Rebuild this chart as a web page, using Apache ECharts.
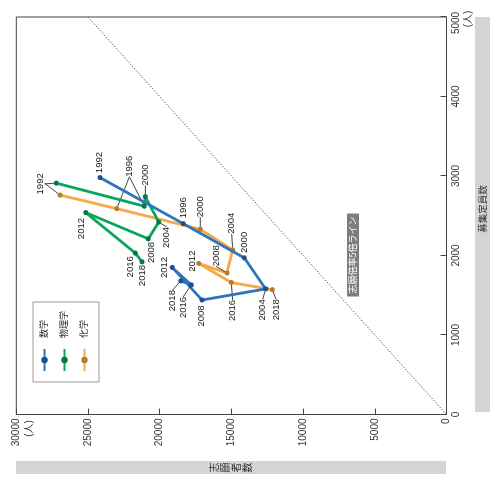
<!DOCTYPE html>
<html><head><meta charset="utf-8">
<script src="https://cdn.jsdelivr.net/npm/echarts@6/dist/echarts.min.js"></script>
<style>
html,body{margin:0;padding:0;width:491px;height:479px;overflow:hidden;background:#fff;}
#chart{position:absolute;left:6px;top:-6px;width:479px;height:491px;transform:rotate(-90deg);transform-origin:50% 50%;}
</style></head><body><div id="chart"></div>
<script>
// ---- data (x: 募集定員数, y: 志願者数) ----
const years = ['1992','1996','2000','2004','2008','2012','2016','2018'];
const seriesNames = ['数学','物理学','化学'];
const mathCapacity = [2980,2400,1970,1580,1440,1850,1630,1680];
const mathApplicants = [24160,18350,14100,12610,17050,19130,17800,18540];
const physicsCapacity = [2910,2620,2740,2420,2210,2540,2030,1920];
const physicsApplicants = [27210,21070,21000,20070,20800,25160,21700,21230];
const chemCapacity = [2760,2590,2330,2070,1780,1900,1660,1570];
const chemApplicants = [26950,23000,17170,14910,15310,17280,15010,12150];
const ratioLineCapacity = [0,5000];
const ratioLineApplicants = [0,25000];
const capacityTicks = [0,1000,2000,3000,4000,5000];
const applicantTicks = [0,5000,10000,15000,20000,25000,30000];

// ---- label placement (styling, px offsets from point) ----
const mathLabelOffsets = [[15,-1],[16,0],[15.5,0],[-21,-3],[-16,-1],[0,-8],[-22.5,-8],[-19.7,-8]];
const mathLeader = [false,false,false,true,false,false,true,true];
const physLabelOffsets = [[-0.7,-16.3],[40,-15],[21.7,0],[-15.3,8],[-13.7,3.4],[-16,-4],[-13.7,-4.6],[-13.7,0]];
const physLeader = [true,true,true,true,false,false,false,false];
const chemLabelOffsets = [[11.7,-20],[42,12.6],[22.6,0],[26.7,-1],[17.3,-10.9],[2.3,-6.7],[-28,1.4],[-20,3.7]];
const chemLeader = [true,true,true,true,true,false,true,true];
const chemHiddenText = [true,true,false,false,false,false,false,false]; // shares label text with 物理学

const FONT = '"Liberation Sans", Arial, "Noto Sans CJK JP", sans-serif';
const colors = {
  line: ['#2f74bd','#0aa65c','#f5a947'],
  dot:  ['#1f508e','#097640','#b87c2e']
};
const leaderStyle = {color: '#111', width: 0.8};

function makeSeries(idx, caps, apps, offsets, leaders, z, hidden){
  return {
    name: seriesNames[idx],
    type: 'line',
    z: z,
    data: caps.map((c,i)=>{
      const item = {value:[c, apps[i]], labelLine:{show: leaders[i], lineStyle: leaderStyle}};
      if (hidden && hidden[i]) item.label = {color: 'rgba(0,0,0,0)'};
      return item;
    }),
    symbol: 'circle',
    symbolSize: 5,
    lineStyle: {color: colors.line[idx], width: 2.8},
    itemStyle: {color: colors.dot[idx], borderWidth: 0},
    label: {
      show: true, position: 'inside',
      formatter: p => years[p.dataIndex],
      fontSize: 9.5, color: '#1a1a1a', fontFamily: FONT
    },
    labelLine: {show: false, lineStyle: leaderStyle},
    labelLayout: p => ({dx: offsets[p.dataIndex][0], dy: offsets[p.dataIndex][1]}),
    emphasis: {disabled: true}
  };
}

const chart = echarts.init(document.getElementById('chart'), null, {renderer:'canvas'});
chart.setOption({
  animation: false,
  textStyle: {fontFamily: FONT},
  grid: {left: 64.5, right: 17, top: 16.3, bottom: 44.5, show: true, borderColor: '#444', borderWidth: 1, outerBoundsMode: 'none'},
  xAxis: {
    type: 'value', min: capacityTicks[0], max: capacityTicks[capacityTicks.length-1],
    interval: capacityTicks[1]-capacityTicks[0],
    axisLine: {show: true, lineStyle: {color: '#444', width: 1}},
    axisTick: {show: true, inside: true, length: 6, lineStyle: {color: '#444'}},
    axisLabel: {
      fontSize: 10, color: '#333', margin: 5, fontFamily: FONT,
      formatter: v => v === 5000 ? '{s|5000}' : String(v),
      rich: {s: {fontSize: 10, color: '#333', padding: [0, 12, 0, 0], fontFamily: FONT}}
    },
    splitLine: {show: false}
  },
  yAxis: {
    type: 'value', min: applicantTicks[0], max: applicantTicks[applicantTicks.length-1],
    interval: applicantTicks[1]-applicantTicks[0],
    axisLine: {show: true, lineStyle: {color: '#444', width: 1}},
    axisTick: {show: true, inside: true, length: 6, lineStyle: {color: '#444'}},
    axisLabel: {fontSize: 10, color: '#333', margin: 4, fontFamily: FONT, formatter: v => String(v)},
    splitLine: {show: false}
  },
  legend: {
    data: seriesNames,
    orient: 'vertical', left: 97, top: 33,
    padding: [7, 9, 10, 10], itemGap: 11,
    itemWidth: 22, itemHeight: 8,
    borderColor: '#999', borderWidth: 1,
    textStyle: {fontSize: 9, color: '#222', fontFamily: FONT, padding: [0,0,0,6]},
    selectedMode: false
  },
  graphic: [
    {type: 'rect', left: 5, top: 16, shape: {width: 13, height: 430}, style: {fill: '#d4d4d4'}, silent: true},
    {type: 'text', x: 11.5, y: 231, style: {text: '志\n願\n者\n数', lineHeight: 11, align: 'center', verticalAlign: 'middle', fill: '#333', font: '10px "Noto Sans CJK JP"'}, silent: true},
    {type: 'rect', left: 67, top: 475, shape: {width: 395, height: 15}, style: {fill: '#d4d4d4'}, silent: true},
    {type: 'text', x: 270, y: 482.5, style: {text: '募集定員数', align: 'center', verticalAlign: 'middle', fill: '#333', font: '9.5px "Noto Sans CJK JP"'}, silent: true},
    {type: 'text', x: 50.5, y: 29, style: {text: '(人)', align: 'center', verticalAlign: 'middle', fill: '#333', font: '10px "Liberation Sans", "Noto Sans CJK JP"'}, silent: true},
    {type: 'text', x: 460, y: 468, style: {text: '(人)', align: 'center', verticalAlign: 'middle', fill: '#333', font: '10px "Liberation Sans", "Noto Sans CJK JP"'}, silent: true},
    {type: 'text', x: 224, y: 353, style: {text: '志願倍率5倍ライン', align: 'center', verticalAlign: 'middle', fill: '#fff', backgroundColor: '#7d7d7d', padding: [2, 3, 1, 3], font: '9px "Noto Sans CJK JP"'}, silent: true}
  ],
  series: [
    {
      type: 'line', name: 'ratio', z: 1, silent: true,
      data: ratioLineCapacity.map((c,i)=>[c, ratioLineApplicants[i]]),
      symbol: 'none',
      lineStyle: {color: '#444', width: 1, type: [1.2, 1.8]}
    },
    makeSeries(0, mathCapacity, mathApplicants, mathLabelOffsets, mathLeader, 5),
    makeSeries(1, physicsCapacity, physicsApplicants, physLabelOffsets, physLeader, 4),
    makeSeries(2, chemCapacity, chemApplicants, chemLabelOffsets, chemLeader, 3, chemHiddenText)
  ]
});
</script></body></html>
